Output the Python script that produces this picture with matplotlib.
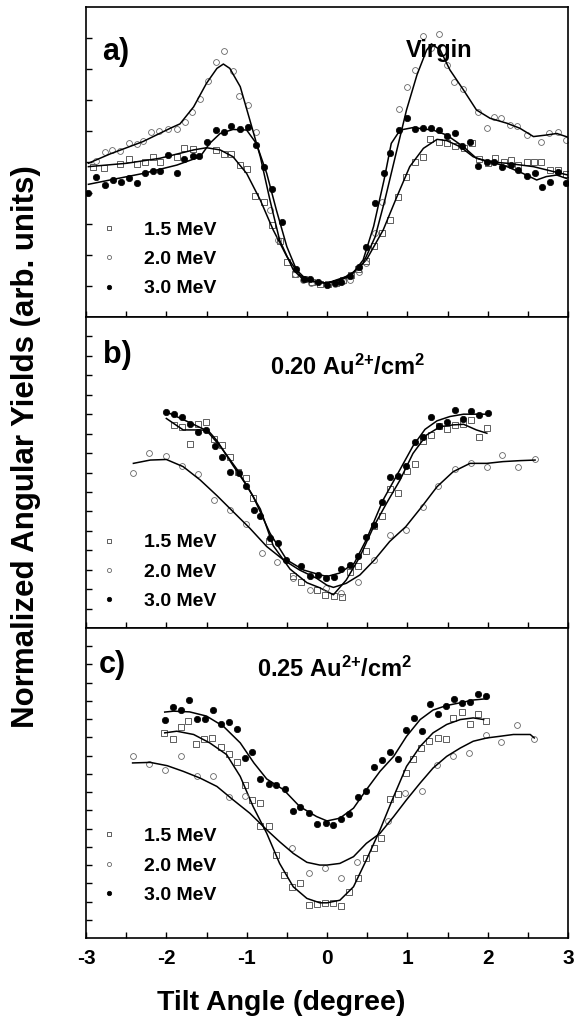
import numpy as np
import matplotlib.pyplot as plt

plt.rcParams['font.family'] = ['Liberation Sans', 'DejaVu Sans']
plt.rcParams['font.weight'] = 'bold'

# ---- data (tilt angle in degrees, yield in arb. units) ----
energies = ['1.5 MeV', '2.0 MeV', '3.0 MeV']
x_ticks = [-3, -2, -1, 0, 1, 2, 3]

# panel a) virgin
a15_pts = [(-2.91, 4.85), (-2.78, 4.80), (-2.58, 4.92), (-2.47, 5.09), (-2.37, 4.92), (-2.27, 5.01),
           (-2.17, 5.17), (-2.08, 5.01), (-1.87, 5.17), (-1.78, 5.46), (-1.67, 5.42), (-1.38, 5.39),
           (-1.28, 5.26), (-1.19, 5.26), (-1.08, 4.90), (-0.99, 4.76), (-0.90, 3.91), (-0.79, 3.72),
           (-0.69, 2.97), (-0.59, 2.46), (-0.50, 1.78), (-0.40, 1.40), (-0.29, 1.22), (-0.19, 1.12),
           (-0.09, 1.08), (0.01, 1.05), (0.11, 1.10), (0.20, 1.20), (0.30, 1.35), (0.39, 1.55),
           (0.49, 1.80), (0.59, 2.30), (0.68, 2.70), (0.78, 3.13), (0.88, 3.88), (0.98, 4.53),
           (1.10, 4.99), (1.20, 5.17), (1.28, 5.73), (1.39, 5.66), (1.49, 5.60), (1.59, 5.53),
           (1.70, 5.44), (1.80, 5.60), (1.89, 5.09), (2.00, 4.98), (2.09, 5.12), (2.20, 5.01),
           (2.29, 5.06), (2.38, 4.90), (2.49, 4.99), (2.58, 4.99), (2.67, 5.01), (2.78, 4.74),
           (2.88, 4.74), (2.97, 4.60)]
a20_pts = [(-2.87, 5.03), (-2.76, 5.33), (-2.68, 5.39), (-2.58, 5.35), (-2.47, 5.62), (-2.37, 5.58),
           (-2.29, 5.69), (-2.19, 5.96), (-2.09, 6.00), (-1.98, 6.05), (-1.87, 6.05), (-1.77, 6.29),
           (-1.68, 6.62), (-1.58, 7.02), (-1.48, 7.62), (-1.38, 8.23), (-1.28, 8.58), (-1.17, 7.94),
           (-1.09, 7.14), (-0.98, 6.83), (-0.88, 5.96), (-0.71, 3.45), (-0.61, 2.48), (-0.40, 1.38),
           (-0.30, 1.20), (-0.20, 1.10), (0.10, 1.08), (0.20, 1.15), (0.29, 1.19), (0.40, 1.45),
           (0.49, 1.73), (0.60, 2.70), (0.68, 3.70), (0.90, 6.71), (0.99, 7.41), (1.10, 7.97),
           (1.20, 9.06), (1.29, 8.67), (1.39, 9.13), (1.49, 8.13), (1.58, 7.59), (1.69, 7.34),
           (1.88, 6.62), (1.99, 6.11), (2.08, 6.46), (2.17, 6.41), (2.28, 6.19), (2.37, 6.16),
           (2.49, 5.87), (2.67, 5.66), (2.76, 5.92), (2.87, 5.96), (2.97, 5.71)]
a30_pts = [(-2.97, 4.01), (-2.87, 4.53), (-2.76, 4.26), (-2.67, 4.42), (-2.57, 4.37), (-2.47, 4.47),
           (-2.37, 4.33), (-2.27, 4.66), (-2.17, 4.71), (-2.08, 4.72), (-1.98, 5.23), (-1.87, 4.66),
           (-1.78, 5.10), (-1.67, 5.19), (-1.59, 5.20), (-1.49, 5.66), (-1.38, 6.03), (-1.28, 5.98),
           (-1.19, 6.16), (-1.08, 6.06), (-0.98, 6.14), (-0.88, 5.55), (-0.79, 4.85), (-0.69, 4.13),
           (-0.56, 3.08), (-0.39, 1.54), (-0.29, 1.22), (-0.21, 1.22), (-0.11, 1.14), (0.00, 1.03),
           (0.10, 1.09), (0.18, 1.14), (0.29, 1.32), (0.40, 1.62), (0.49, 2.27), (0.60, 3.67),
           (0.71, 4.63), (0.79, 5.28), (0.90, 6.03), (1.00, 6.41), (1.10, 6.05), (1.20, 6.09),
           (1.29, 6.09), (1.39, 6.03), (1.49, 5.85), (1.59, 5.95), (1.68, 5.53), (1.78, 5.66),
           (1.88, 4.88), (1.99, 5.01), (2.08, 4.99), (2.18, 4.83), (2.29, 4.90), (2.38, 4.74),
           (2.49, 4.56), (2.59, 4.63), (2.68, 4.20), (2.78, 4.34), (2.88, 4.69), (2.98, 4.31)]
a15_fit = [(-2.97, 4.85), (-2.49, 4.96), (-2.08, 5.12), (-1.66, 5.39), (-1.50, 5.46), (-1.33, 5.39),
           (-1.17, 5.17), (-1.00, 4.63), (-0.83, 3.77), (-0.67, 2.81), (-0.50, 1.95), (-0.34, 1.35),
           (-0.17, 1.14), (0.00, 1.09), (0.17, 1.20), (0.33, 1.45), (0.49, 1.84), (0.70, 2.81),
           (0.87, 3.88), (1.03, 4.85), (1.20, 5.44), (1.37, 5.73), (1.49, 5.69), (1.66, 5.49),
           (1.82, 5.17), (1.99, 5.01), (2.24, 4.96), (2.57, 4.85), (2.82, 4.69), (3.00, 4.58)]
a20_fit = [(-2.97, 4.96), (-2.70, 5.26), (-2.29, 5.66), (-1.95, 6.09), (-1.83, 6.23), (-1.66, 6.78),
           (-1.50, 7.54), (-1.37, 8.02), (-1.29, 8.16), (-1.21, 8.02), (-1.08, 7.43), (-0.96, 6.35),
           (-0.83, 5.17), (-0.71, 3.77), (-0.59, 2.48), (-0.42, 1.52), (-0.29, 1.19), (0.00, 1.09),
           (0.29, 1.35), (0.45, 1.73), (0.60, 2.59), (0.72, 3.77), (0.87, 5.39), (0.99, 6.68),
           (1.12, 7.81), (1.24, 8.61), (1.30, 8.81), (1.41, 8.61), (1.53, 7.97), (1.70, 7.32),
           (1.86, 6.68), (2.03, 6.41), (2.24, 6.25), (2.40, 6.09), (2.57, 5.82), (2.73, 5.87),
           (2.86, 5.92), (3.00, 5.80)]
a30_fit = [(-2.97, 4.28), (-2.70, 4.42), (-2.29, 4.63), (-1.87, 4.90), (-1.58, 5.17), (-1.46, 5.60),
           (-1.33, 5.92), (-1.17, 6.05), (-1.00, 6.03), (-0.88, 5.60), (-0.75, 4.63), (-0.63, 3.45),
           (-0.50, 2.27), (-0.38, 1.52), (-0.25, 1.19), (0.00, 1.09), (0.29, 1.30), (0.45, 1.84),
           (0.58, 2.92), (0.71, 4.42), (0.80, 5.60), (0.91, 6.03), (1.07, 6.11), (1.32, 6.03),
           (1.49, 5.87), (1.70, 5.49), (1.86, 5.12), (2.03, 5.01), (2.24, 4.85), (2.44, 4.63),
           (2.61, 4.42), (2.73, 4.53), (2.86, 4.58), (2.98, 4.47)]

# panel b) 0.20 Au2+/cm2
b15_pts = [(-1.91, 10.43), (-1.81, 10.34), (-1.71, 9.48), (-1.61, 10.52), (-1.51, 10.62), (-1.41, 9.74),
           (-1.31, 9.41), (-1.21, 8.79), (-1.11, 8.01), (-1.01, 7.72), (-0.92, 6.69), (-0.72, 4.50),
           (-0.42, 2.65), (-0.32, 2.36), (-0.12, 1.97), (-0.02, 1.71), (0.09, 1.67), (0.19, 1.62),
           (0.29, 2.88), (0.39, 3.21), (0.49, 3.95), (0.59, 5.24), (0.68, 5.76), (0.78, 7.17),
           (0.89, 6.96), (0.99, 8.07), (1.10, 8.45), (1.19, 9.62), (1.29, 9.91), (1.39, 10.40),
           (1.49, 10.22), (1.59, 10.45), (1.69, 10.48), (1.79, 10.71), (1.89, 9.83), (1.99, 10.28)]
b20_pts = [(-2.41, 7.99), (-2.22, 8.98), (-2.00, 8.85), (-1.81, 8.35), (-1.61, 7.92), (-1.41, 6.58),
           (-1.21, 6.07), (-1.01, 5.33), (-0.81, 3.84), (-0.62, 3.38), (-0.42, 2.55), (-0.21, 1.96),
           (-0.01, 2.08), (0.18, 1.79), (0.39, 2.35), (0.59, 3.50), (0.78, 4.79), (0.98, 5.04),
           (1.19, 6.24), (1.38, 7.31), (1.59, 8.16), (1.79, 8.51), (1.99, 8.27), (2.18, 8.90),
           (2.38, 8.30), (2.59, 8.70)]
b30_pts = [(-2.00, 11.12), (-1.90, 11.00), (-1.81, 10.84), (-1.71, 10.50), (-1.61, 10.07), (-1.51, 10.19),
           (-1.40, 9.34), (-1.31, 8.81), (-1.21, 8.03), (-1.10, 8.00), (-1.01, 7.31), (-0.91, 6.05),
           (-0.84, 5.76), (-0.71, 4.64), (-0.61, 4.38), (-0.51, 3.52), (-0.32, 3.17), (-0.21, 2.70),
           (-0.11, 2.74), (-0.01, 2.57), (0.09, 2.62), (0.18, 3.03), (0.29, 3.26), (0.39, 3.69),
           (0.49, 4.69), (0.58, 5.28), (0.69, 6.48), (0.78, 7.78), (0.89, 7.84), (0.98, 8.33),
           (1.10, 9.57), (1.19, 9.84), (1.29, 10.86), (1.39, 10.40), (1.49, 10.62), (1.59, 11.24),
           (1.69, 10.76), (1.79, 11.14), (1.89, 10.97), (2.00, 11.05)]
b15_fit = [(-2.00, 10.78), (-1.79, 10.19), (-1.58, 10.19), (-1.48, 10.16), (-1.37, 9.64), (-1.17, 8.36),
           (-1.00, 7.33), (-0.83, 6.12), (-0.67, 4.24), (-0.46, 3.03), (-0.25, 2.33), (-0.09, 2.07),
           (0.08, 1.71), (0.24, 2.47), (0.41, 3.67), (0.58, 5.21), (0.74, 6.41), (0.91, 7.62),
           (1.07, 8.98), (1.24, 9.93), (1.41, 10.36), (1.57, 10.45), (1.70, 10.48), (1.86, 10.19),
           (1.99, 10.02)]
b20_fit = [(-2.41, 8.47), (-2.20, 8.64), (-2.00, 8.67), (-1.79, 8.30), (-1.58, 7.62), (-1.37, 6.81),
           (-1.17, 5.99), (-0.96, 5.13), (-0.75, 4.19), (-0.54, 3.50), (-0.34, 2.98), (-0.13, 2.56),
           (0.00, 2.20), (0.08, 2.09), (0.24, 2.30), (0.41, 2.73), (0.59, 3.50), (0.78, 4.45),
           (0.98, 5.21), (1.18, 6.24), (1.37, 7.27), (1.57, 8.04), (1.78, 8.47), (1.99, 8.47),
           (2.19, 8.56), (2.40, 8.61), (2.59, 8.64)]
b30_fit = [(-2.00, 11.12), (-1.71, 10.57), (-1.50, 10.16), (-1.33, 9.36), (-1.12, 8.16), (-0.92, 6.78),
           (-0.71, 4.88), (-0.50, 3.50), (-0.29, 2.98), (-0.09, 2.74), (0.00, 2.65), (0.16, 2.83),
           (0.34, 3.34), (0.49, 4.55), (0.70, 6.60), (0.91, 8.16), (1.07, 9.36), (1.22, 10.22),
           (1.37, 10.66), (1.53, 10.88), (1.70, 11.00), (1.86, 11.00), (1.99, 11.00)]

# panel c) 0.25 Au2+/cm2
c15_pts = [(-2.03, 11.25), (-1.92, 10.92), (-1.82, 11.58), (-1.73, 11.89), (-1.63, 10.64), (-1.53, 10.94),
           (-1.43, 10.97), (-1.32, 10.48), (-1.22, 10.09), (-1.12, 9.65), (-1.02, 8.37), (-0.93, 7.58),
           (-0.83, 7.39), (-0.83, 6.15), (-0.72, 6.15), (-0.63, 4.55), (-0.53, 3.45), (-0.43, 2.77),
           (-0.33, 3.03), (-0.23, 1.80), (-0.12, 1.85), (-0.02, 1.93), (0.08, 1.93), (0.17, 1.74),
           (0.28, 2.53), (0.38, 3.30), (0.48, 4.37), (0.58, 4.92), (0.67, 5.47), (0.78, 7.63),
           (0.88, 7.91), (0.98, 9.05), (1.07, 9.82), (1.17, 10.42), (1.27, 10.79), (1.38, 10.97),
           (1.48, 10.94), (1.57, 12.07), (1.68, 12.39), (1.78, 11.71), (1.88, 12.26), (1.98, 11.89)]
c20_pts = [(-2.42, 9.96), (-2.22, 9.56), (-2.02, 9.23), (-1.82, 10.00), (-1.62, 8.90), (-1.42, 8.90),
           (-1.22, 7.72), (-1.02, 7.76), (-0.43, 4.95), (-0.23, 3.58), (-0.02, 3.85), (0.17, 3.27),
           (0.37, 4.18), (0.76, 6.39), (0.97, 7.94), (1.18, 8.04), (1.37, 9.50), (1.57, 10.00),
           (1.77, 10.15), (1.98, 11.12), (2.17, 10.75), (2.37, 11.69), (2.58, 10.94)]
c30_pts = [(-2.02, 11.93), (-1.92, 12.68), (-1.82, 12.50), (-1.72, 13.05), (-1.62, 12.02), (-1.52, 12.02),
           (-1.42, 12.53), (-1.32, 11.71), (-1.22, 11.85), (-1.12, 11.47), (-1.02, 9.85), (-0.93, 10.18),
           (-0.83, 8.72), (-0.72, 8.46), (-0.63, 8.37), (-0.52, 8.17), (-0.42, 6.99), (-0.33, 7.21),
           (-0.22, 6.88), (-0.12, 6.26), (-0.01, 6.33), (0.08, 6.20), (0.17, 6.51), (0.28, 6.79),
           (0.38, 7.72), (0.48, 8.07), (0.58, 9.38), (0.68, 9.78), (0.78, 10.20), (0.88, 9.83),
           (0.98, 11.43), (1.08, 12.07), (1.18, 11.34), (1.28, 12.81), (1.38, 12.29), (1.48, 12.72),
           (1.58, 13.12), (1.68, 12.90), (1.78, 12.95), (1.88, 13.36), (1.98, 13.27)]
c15_fit = [(-2.02, 11.25), (-1.87, 11.34), (-1.66, 11.16), (-1.46, 10.70), (-1.25, 10.06), (-1.08, 8.86),
           (-0.92, 7.21), (-0.75, 5.74), (-0.59, 4.09), (-0.42, 2.81), (-0.25, 2.17), (-0.09, 1.93),
           (0.00, 1.93), (0.16, 2.07), (0.33, 2.81), (0.49, 4.28), (0.66, 5.93), (0.83, 7.76),
           (0.99, 9.41), (1.16, 10.51), (1.32, 11.25), (1.49, 11.71), (1.66, 11.98), (1.82, 12.07),
           (1.95, 11.98)]
c20_fit = [(-2.42, 9.60), (-2.20, 9.63), (-1.99, 9.45), (-1.79, 9.14), (-1.58, 8.77), (-1.37, 8.31),
           (-1.17, 7.58), (-0.96, 6.84), (-0.75, 5.93), (-0.59, 5.28), (-0.42, 4.64), (-0.25, 4.15),
           (-0.09, 4.00), (0.00, 4.00), (0.16, 4.09), (0.33, 4.46), (0.49, 5.19), (0.66, 5.74),
           (0.83, 6.66), (0.99, 7.58), (1.16, 8.50), (1.32, 9.32), (1.49, 9.96), (1.66, 10.42),
           (1.82, 10.79), (1.99, 10.97), (2.15, 11.06), (2.32, 11.16), (2.53, 11.16), (2.58, 10.97)]
c30_fit = [(-2.02, 12.39), (-1.91, 12.44), (-1.71, 12.40), (-1.50, 12.17), (-1.29, 11.61), (-1.08, 10.70),
           (-0.91, 9.60), (-0.75, 8.72), (-0.54, 8.13), (-0.34, 7.21), (-0.13, 6.66), (0.00, 6.42),
           (0.16, 6.57), (0.33, 7.12), (0.49, 8.13), (0.66, 9.14), (0.83, 9.96), (0.99, 11.06),
           (1.16, 11.98), (1.32, 12.50), (1.49, 12.75), (1.66, 12.90), (1.82, 13.05), (1.98, 13.12)]

panel_tags = ['a)', 'b)', 'c)']
panel_titles = ['Virgin', r'0.20 Au$^{2{+}}$/cm$^{2}$', r'0.25 Au$^{2{+}}$/cm$^{2}$']
y_tops = [10, 16, 17]

plt.rcParams['mathtext.fontset'] = 'custom'
plt.rcParams['mathtext.rm'] = 'Liberation Sans:bold'
plt.rcParams['mathtext.it'] = 'Liberation Sans:bold'
plt.rcParams['mathtext.bf'] = 'Liberation Sans:bold'
plt.rcParams['mathtext.default'] = 'rm'

fig = plt.figure(figsize=(5.82, 10.30), dpi=100)
W, H = 582, 1030
left, right = 86, 568
tops = [7, 317, 628]
bots = [317, 628, 938]

pts = [(a15_pts, a20_pts, a30_pts), (b15_pts, b20_pts, b30_pts), (c15_pts, c20_pts, c30_pts)]
fits = [(a15_fit, a20_fit, a30_fit), (b15_fit, b20_fit, b30_fit), (c15_fit, c20_fit, c30_fit)]

# text positions in axes fraction
tag_pos = [(0.033, 0.829), (0.035, 0.852), (0.027, 0.855)]
title_pos = [(0.664, 0.839), (0.382, 0.813), (0.355, 0.842)]
leg_anchor = [(0.028, 0.309), (0.028, 0.303), (0.028, 0.356)]

styles = [dict(marker='s', ms=4.0, mfc='none', mec='#444444', mew=0.6),
          dict(marker='o', ms=4.2, mfc='none', mec='#666666', mew=0.6),
          dict(marker='o', ms=4.6, mfc='black', mec='black', mew=0.5)]

for i in range(3):
    ax = fig.add_axes([left / W, 1 - bots[i] / H, (right - left) / W, (bots[i] - tops[i]) / H])
    handles = []
    for j in range(3):
        px, py = zip(*pts[i][j])
        h, = ax.plot(px, py, linestyle='none', label=energies[j], **styles[j])
        handles.append(h)
        fx, fy = zip(*fits[i][j])
        ax.plot(fx, fy, color='black', lw=1.1)
    ax.set_xlim(-3, 3)
    ax.set_ylim(0, y_tops[i])
    ax.set_xticks(x_ticks)
    ax.set_xticks(np.arange(-2.5, 3, 1.0), minor=True)
    ax.set_yticks(range(1, y_tops[i]))
    ax.set_yticklabels([])
    ax.tick_params(which='both', direction='in', length=4, width=1, top=False, right=False)
    if i < 2:
        ax.set_xticklabels([])
    else:
        ax.set_xticklabels([str(t) for t in x_ticks], fontsize=15, fontweight='bold')
        ax.tick_params(axis='x', pad=8)
    for s in ax.spines.values():
        s.set_linewidth(1.2)
    ax.text(*tag_pos[i], panel_tags[i], transform=ax.transAxes, fontsize=22,
            fontweight='bold', va='baseline')
    ax.text(*title_pos[i], panel_titles[i], transform=ax.transAxes, fontsize=17,
            fontweight='bold', va='baseline')
    ax.legend(handles=handles, loc='upper left', bbox_to_anchor=leg_anchor[i], frameon=False,
              borderpad=0, borderaxespad=0, handlelength=1.0, handletextpad=1.3,
              labelspacing=0.6, markerscale=0.7, prop={'size': 14, 'weight': 'bold'})

fig.text(281 / W, 1 - 1003 / H, 'Tilt Angle (degree)', fontsize=20.5, fontweight='bold',
         ha='center', va='center')
fig.text(26 / W, 1 - 447 / H, 'Normalized Angular Yields (arb. units)', fontsize=22.5,
         fontweight='bold', ha='center', va='center', rotation=90)

fig.savefig('out.png', dpi=100)
